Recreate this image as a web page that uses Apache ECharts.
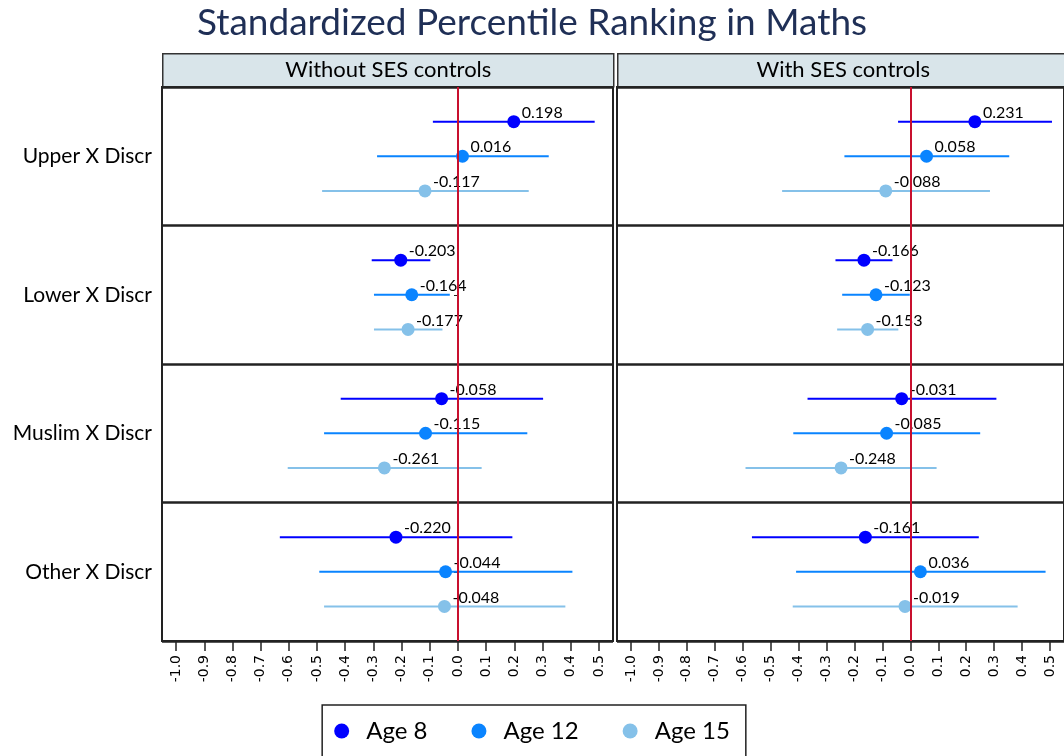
<!DOCTYPE html>
<html>
<head>
<meta charset="utf-8">
<title>Standardized Percentile Ranking in Maths</title>
<script src="https://cdn.jsdelivr.net/npm/echarts@6/dist/echarts.min.js"></script>
<style>
  html, body { margin: 0; padding: 0; background: #fff; }
  #main { width: 1064px; height: 756px; }
</style>
</head>
<body>
<div id="main"></div>
<script type="text/javascript">
// rows (top to bottom), panels and groups
var rows = ['Upper X Discr', 'Lower X Discr', 'Muslim X Discr', 'Other X Discr'];
var panels = ['Without SES controls', 'With SES controls'];
var ages = ['Age 8', 'Age 12', 'Age 15'];
var ageColors = ['#0000ff', '#0a84ff', '#85c1e9'];
var xTicks = [-1.0, -0.9, -0.8, -0.7, -0.6, -0.5, -0.4, -0.3, -0.2, -0.1, 0.0, 0.1, 0.2, 0.3, 0.4, 0.5];

// estimates and CI bounds, one inner array per age, one value per row
var estWithout = [[0.198, -0.203, -0.058, -0.220], [0.016, -0.164, -0.115, -0.044], [-0.117, -0.177, -0.261, -0.048]];
var loWithout  = [[-0.089, -0.306, -0.416, -0.632], [-0.287, -0.298, -0.475, -0.492], [-0.482, -0.298, -0.604, -0.475]];
var hiWithout  = [[0.485, -0.098, 0.302, 0.193], [0.322, -0.029, 0.246, 0.406], [0.251, -0.055, 0.084, 0.381]];

var estWith = [[0.231, -0.166, -0.031, -0.161], [0.058, -0.123, -0.085, 0.036], [-0.088, -0.153, -0.248, -0.019]];
var loWith  = [[-0.044, -0.268, -0.368, -0.567], [-0.236, -0.244, -0.419, -0.409], [-0.459, -0.262, -0.590, -0.421]];
var hiWith  = [[0.507, -0.064, 0.308, 0.245], [0.354, -0.002, 0.250, 0.484], [0.285, -0.043, 0.094, 0.384]];

var est = [estWithout, estWith];
var lo = [loWithout, loWith];
var hi = [hiWithout, hiWith];

var font = 'Lato';
var gridLeft = [162, 617];
var gridW = 451, gridTop = 87, gridH = 554;

function makeRender(k) {
    return function (params, api) {
        var c = api.coord([api.value(1), api.value(0)]);
        var l = api.coord([api.value(2), api.value(0)]);
        var h = api.coord([api.value(3), api.value(0)]);
        var band = api.size([0, 1])[1];
        var y = c[1] + (k - 1) * band / 4;
        var color = api.visual('color');
        return {
            type: 'group',
            children: [
                { type: 'line', shape: { x1: l[0], y1: y, x2: h[0], y2: y }, style: { stroke: color, lineWidth: 2 } },
                { type: 'circle', shape: { cx: c[0], cy: y, r: 6.5 }, style: { fill: color } },
                { type: 'text', x: c[0] + 8, y: y - 1, z2: 10,
                  style: { text: api.value(1).toFixed(3), fill: '#000', font: '16px ' + font, align: 'left', verticalAlign: 'bottom' } }
            ]
        };
    };
}

var grids = [], xAxes = [], yAxes = [], series = [], graphics = [];
for (var p = 0; p < 2; p++) {
    grids.push({ left: gridLeft[p], top: gridTop, width: gridW, height: gridH, show: true,
        borderColor: '#222', borderWidth: 2, backgroundColor: '#fff' });
    xAxes.push({
        type: 'value', gridIndex: p, min: -1.05, max: 0.55,
        axisLine: { show: true, lineStyle: { color: '#222', width: 2 } },
        axisTick: { show: true, length: 10, customValues: xTicks, lineStyle: { color: '#222', width: 1.5 } },
        axisLabel: { customValues: xTicks, rotate: 90, margin: 14, color: '#000', fontSize: 14,
            fontFamily: 'DejaVu Sans', formatter: function (v) { return v.toFixed(1); } },
        splitLine: { show: false }
    });
    yAxes.push({
        type: 'category', gridIndex: p, data: rows, inverse: true,
        axisLine: { show: true, lineStyle: { color: '#222', width: 2 } },
        axisTick: { show: p === 0, alignWithLabel: true, length: 4, lineStyle: { color: '#222' } },
        axisLabel: { show: p === 0, color: '#000', fontSize: 21, fontFamily: font, margin: 10 },
        splitLine: { show: true, lineStyle: { color: '#222', width: 2.5 } }
    });
    graphics.push({
        type: 'group', left: gridLeft[p], top: 53,
        children: [
            { type: 'rect', shape: { x: 0, y: 0, width: gridW, height: 33 },
              style: { fill: '#d9e5ea', stroke: '#333', lineWidth: 1.5 } },
            { type: 'text', x: gridW / 2, y: 16.5,
              style: { text: panels[p], fill: '#000', font: '22px ' + font, align: 'center', verticalAlign: 'middle' } }
        ]
    });
    for (var k = 0; k < 3; k++) {
        var data = rows.map(function (r, i) { return [i, est[p][k][i], lo[p][k][i], hi[p][k][i]]; });
        var s = {
            name: ages[k], type: 'custom', xAxisIndex: p, yAxisIndex: p,
            itemStyle: { color: ageColors[k] },
            encode: { x: [1, 2, 3], y: 0 },
            renderItem: makeRender(k),
            data: data
        };
        if (k === 0) {
            s.markLine = { silent: true, symbol: 'none', label: { show: false },
                lineStyle: { color: '#c8102e', width: 2, type: 'solid' }, data: [{ xAxis: 0 }] };
        }
        series.push(s);
    }
}

var myChart = echarts.init(document.getElementById('main'));
var option = {
    animation: false,
    title: {
        text: 'Standardized Percentile Ranking in Maths', left: 'center', top: 0,
        textStyle: { color: '#1f2f56', fontSize: 37, fontWeight: 'normal', fontFamily: font }
    },
    legend: {
        data: ages.map(function (a) { return { name: a, icon: 'circle' }; }),
        left: 'center', top: 705, itemWidth: 15, itemHeight: 15, itemGap: 44,
        padding: [14, 16, 14, 12], borderColor: '#222', borderWidth: 1.5,
        textStyle: { color: '#000', fontSize: 24, fontFamily: font, padding: [0, 0, 0, 12] }
    },
    grid: grids,
    xAxis: xAxes,
    yAxis: yAxes,
    graphic: graphics,
    series: series
};
myChart.setOption(option);
</script>
</body>
</html>
